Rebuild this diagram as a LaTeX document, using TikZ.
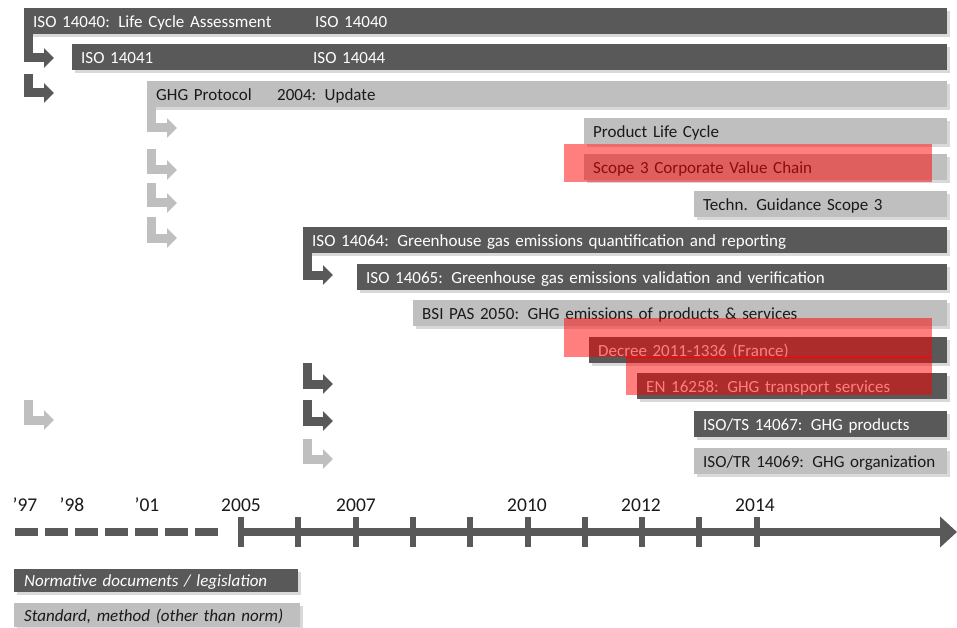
\documentclass[tikz,border=0pt]{standalone}
\usepackage{fontspec}
\setmainfont{Carlito}
\usetikzlibrary{arrows.meta,shadows}

\definecolor{dkgray}{HTML}{595959}
\definecolor{ltgray}{HTML}{BFBFBF}
\definecolor{inktext}{HTML}{1A1A1A}

\tikzset{
	bar/.style={rectangle, anchor=north west, minimum height=26pt, inner xsep=9pt, inner ysep=0pt,
		text height=12pt, text depth=0pt, align=left, font=\fontsize{17}{20}\selectfont,
		drop shadow={shadow xshift=2.5pt, shadow yshift=-2.5pt, opacity=0.3}},
	normbar/.style={bar, fill=dkgray, text=white},
	stdbar/.style={bar, fill=ltgray, text=inktext},
	keybox/.style={bar, minimum height=24pt, inner xsep=10pt, font=\fontsize{17}{20}\selectfont\itshape},
	turn/.style={line width=9pt, -{Triangle[length=10pt,width=19pt]}},
	dkturn/.style={turn, draw=dkgray},
	ltturn/.style={turn, draw=ltgray},
	redmark/.style={fill=red, opacity=0.5},
	year/.style={font=\fontsize{19.5}{22}\selectfont, text=inktext, inner sep=0pt}
}

\begin{document}
\begin{tikzpicture}[x=1pt, y=-1pt]
	\useasboundingbox (0,0) rectangle (957,628);

	% documents, one bar per row
	\node[normbar, text width=905pt] (iso14040) at (24,8) {\makebox[282pt][l]{ISO 14040: Life Cycle Assessment}ISO 14040};
	\node[normbar, text width=857pt] (iso14041) at (72,44) {\makebox[232pt][l]{ISO 14041}ISO 14044};
	\node[stdbar, text width=782pt] (ghg) at (147,81) {\makebox[121pt][l]{GHG Protocol}2004: Update};
	\node[stdbar, text width=345pt] (plc) at (584,118) {Product Life Cycle};
	\node[stdbar, text width=345pt] (scope3) at (584,154) {Scope 3 Corporate Value Chain};
	\node[stdbar, text width=235pt] (techn) at (694,191) {Techn. Guidance Scope 3};
	\node[normbar, text width=626pt] (iso14064) at (303,227) {ISO 14064: Greenhouse gas emissions quantification and reporting};
	\node[normbar, text width=572pt] (iso14065) at (357,264) {ISO 14065: Greenhouse gas emissions validation and verification};
	\node[stdbar, text width=516pt] (pas2050) at (413,300) {BSI PAS 2050: GHG emissions of products \& services};
	\node[normbar, text width=340pt] (decree) at (589,337) {Decree 2011-1336 (France)};
	\node[normbar, text width=292pt] (en16258) at (637,373) {EN 16258: GHG transport services};
	\node[normbar, text width=235pt] (iso14067) at (694,411) {ISO/TS 14067: GHG products};
	\node[stdbar, text width=235pt] (iso14069) at (694,448) {ISO/TR 14069: GHG organization};

	% bent arrows
	\coordinate (h1) at (54,58);
	\coordinate (h3) at (177,128);
	\coordinate (h7) at (333,275);
	\draw[dkturn] ([xshift=4.5pt]iso14040.south west) |- (h1);
	\draw[ltturn] ([xshift=4.5pt]ghg.south west) |- (h3);
	\draw[dkturn] ([xshift=4.5pt]iso14064.south west) |- (h7);
	\foreach \n/\ax/\ay/\ab/\c in {2/24/74/93/dkturn, 4/147/149/170/ltturn, 5/147/183/203/ltturn,
		6/147/217/238/ltturn, 8/303/363/384/dkturn, 9/303/400/421/dkturn, 10/303/439/459/ltturn,
		11/24/400/420/ltturn} {
		\coordinate (t\n) at (\ax+4.5,\ay);
		\coordinate (h\n) at (\ax+30,\ab);
		\draw[\c] (t\n) |- (h\n);
	}

	% red highlights
	\fill[redmark] (564,144) rectangle (932,182);
	\fill[redmark] (564,318) rectangle (932,357);
	\fill[redmark] (626,357) rectangle (932,395);
	\draw[red, line width=0.8pt] (626,357) -- (932,357);

	% time axis
	\coordinate (d0) at (15,532);
	\coordinate (d1) at (220,532);
	\coordinate (t0) at (241,532);
	\coordinate (tend) at (957,532);
	\draw[dkgray, line width=8pt, dash pattern=on 23pt off 7pt] (d0) -- (d1);
	\draw[dkgray, line width=8pt, -{Triangle[length=17pt,width=30pt]}] (t0) -- (tend);
	\foreach \k in {0,...,9}
		\draw[dkgray, line width=6pt] (241+57.3*\k,517) -- (241+57.3*\k,547);

	\node[year] (y97) at (25,505) {'97};
	\node[year] (y98) at (72,505) {'98};
	\node[year] (y01) at (147,505) {'01};
	\node[year] (y05) at (241,505) {2005};
	\node[year] (y07) at (356,505) {2007};
	\node[year] (y10) at (527,505) {2010};
	\node[year] (y12) at (641,505) {2012};
	\node[year] (y14) at (755,505) {2014};

	% legend
	\node[keybox, fill=dkgray, text=white, minimum height=23pt, text width=264pt] (knorm) at (14,569) {Normative documents / legislation};
	\node[keybox, fill=ltgray, text=inktext, text width=266pt] (kstd) at (14,603) {Standard, method (other than norm)};
\end{tikzpicture}
\end{document}
